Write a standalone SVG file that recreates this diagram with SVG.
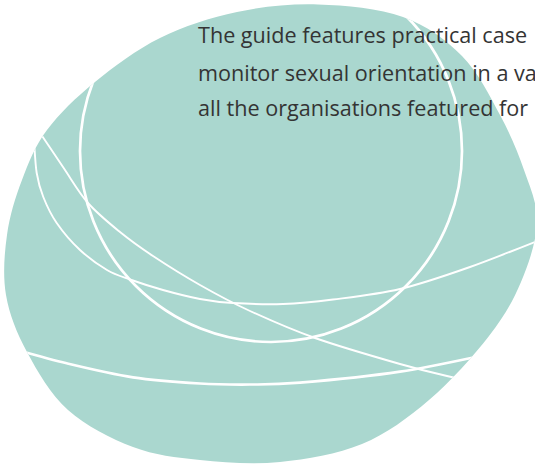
<svg xmlns="http://www.w3.org/2000/svg" width="535" height="465" viewBox="0 0 535 465">
<defs>
<style>
.blob{fill:#aad7cf}
.w{fill:none;stroke:#ffffff;stroke-linecap:round}
.thick{stroke-width:2.7}
.thin{stroke-width:1.9}
.txt{font-family:"Open Sans","Noto Sans","DejaVu Sans",sans-serif;font-size:21.6px;fill:#343434}
</style>
<path id="blobPath" d="M318,4.5 C345.7,5.3 379,8.4 403,17 C427,25.6 445.8,39.7 462,56 C478.2,72.3 489.7,96 500,115 C510.3,134 517.8,152.2 524,170 C530.2,187.8 537.5,203.3 537,222 C536.5,240.7 529,263 521,282 C513,301 504.3,316.3 489,336 C473.7,355.7 450.2,382 429,400 C407.8,418 386.8,433.7 362,444 C337.2,454.3 307,459.3 280,462 C253,464.7 224.5,462.5 200,460 C175.5,457.5 155,455.3 133,447 C111,438.7 85.7,425.8 68,410 C50.3,394.2 37.3,371.2 27,352 C16.7,332.8 9.3,314.5 6,295 C2.7,275.5 4.3,254.2 7,235 C9.7,215.8 15.3,197.5 22,180 C28.7,162.5 34.8,146.3 47,130 C59.2,113.7 76.2,97.3 95,82 C113.8,66.7 136.3,49.7 160,38 C183.7,26.3 210.7,17.6 237,12 C263.3,6.4 290.3,3.7 318,4.5 Z"/>
<clipPath id="clip"><use href="#blobPath"/></clipPath>
</defs>
<g id="shape">
<use href="#blobPath" class="blob"/>
</g>
<g id="connectors" clip-path="url(#clip)">
<circle class="w thick" cx="271" cy="151" r="191"/>
<path class="w thin" d="M32,121 C37.2,128.7 53.7,153.3 63,167 C72.3,180.7 78.5,192.2 88,203 C97.5,213.8 109.2,223.2 120,232 C130.8,240.8 139.7,247.2 153,256 C166.3,264.8 183.8,275.8 200,285 C216.2,294.2 230.8,302.2 250,311 C269.2,319.8 290,329.2 315,338 C340,346.8 378,357.7 400,364 C422,370.3 433.7,373 447,376 C460.3,379 474.5,381 480,382"/>
<path class="w thin" d="M34,140 C34.45,145.5 35.15,163.5 36.7,173 C38.25,182.5 40,188.7 43.3,197 C46.6,205.3 50.6,214.2 56.7,223 C62.8,231.8 71.6,242.2 80,250 C88.4,257.8 98.7,265.1 107,270 C115.3,274.9 120.7,276.2 130,279.5 C139.3,282.8 151.3,286.75 163,290 C174.7,293.25 188.3,296.8 200,299 C211.7,301.2 219.2,302.2 233,303 C246.8,303.8 266.3,304.6 283,304 C299.7,303.4 313.5,302 333,299.5 C352.5,297 377.2,294.4 400,289 C422.8,283.6 445,275.8 470,267 C495,258.2 536.7,241.2 550,236"/>
<path class="w thick" d="M10,348 C19.45,350.55 46.2,358.4 66.7,363.3 C87.2,368.2 110.8,373.9 133,377.3 C155.2,380.7 180.5,382.3 200,383.5 C219.5,384.7 233.3,384.6 250,384.5 C266.7,384.4 275,384.8 300,382.7 C325,380.6 368.3,376.5 400,371.7 C431.7,366.9 475,357 490,354"/>
</g>
<g id="text">
<text class="txt" x="198" y="43.3">The guide features practical case</text>
<text class="txt" x="198" y="80.5">monitor sexual orientation in a va</text>
<text class="txt" x="198" y="116">all the organisations featured for</text>
</g>
</svg>
